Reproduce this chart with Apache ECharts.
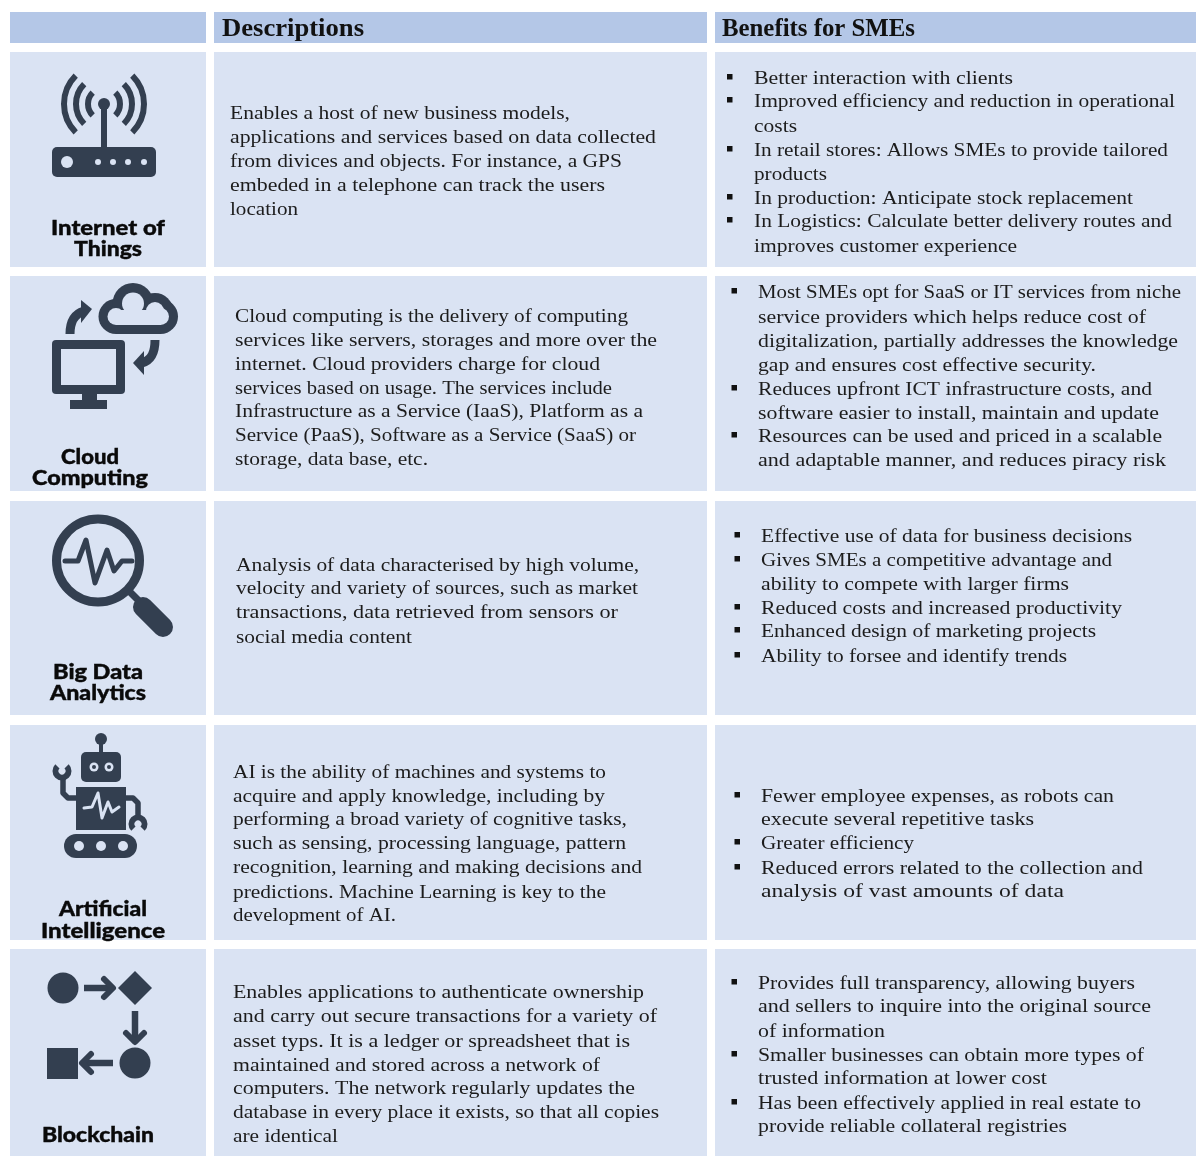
<!DOCTYPE html>
<html><head><meta charset="utf-8">
<style>html,body{margin:0;padding:0;background:#fff}#c{width:1198px;height:1156px}</style>
<script src="https://cdn.jsdelivr.net/npm/echarts@6/dist/echarts.min.js"></script>
</head><body><div id="c"></div>
<script>
const headers = ["Descriptions", "Benefits for SMEs"];
const titles = [["Internet of","Things"],["Cloud","Computing"],["Big Data","Analytics"],["Artificial","Intelligence"],["Blockchain"]];
const descriptions = [
 ["Enables a host of new business models,","applications and services based on data collected","from divices and objects. For instance, a GPS","embeded in a telephone can track the users","location"],
 ["Cloud computing is the delivery of computing","services like servers, storages and more over the","internet. Cloud providers charge for cloud","services based on usage. The services include","Infrastructure as a Service (IaaS), Platform as a","Service (PaaS), Software as a Service (SaaS) or","storage, data base, etc."],
 ["Analysis of data characterised by high volume,","velocity and variety of sources, such as market","transactions, data retrieved from sensors or","social media content"],
 ["AI is the ability of machines and systems to","acquire and apply knowledge, including by","performing a broad variety of cognitive tasks,","such as sensing, processing language, pattern","recognition, learning and making decisions and","predictions. Machine Learning is key to the","development of AI."],
 ["Enables applications to authenticate ownership","and carry out secure transactions for a variety of","asset typs. It is a ledger or spreadsheet that is","maintained and stored across a network of","computers. The network regularly updates the","database in every place it exists, so that all copies","are identical"]
];
// "* " marks a line that starts a new bullet
const benefits = [
 ["* Better interaction with clients","* Improved efficiency and reduction in operational","costs","* In retail stores: Allows SMEs to provide tailored","products","* In production: Anticipate stock replacement","* In Logistics: Calculate better delivery routes and","improves customer experience"],
 ["* Most SMEs opt for SaaS or IT services from niche","service providers which helps reduce cost of","digitalization, partially addresses the knowledge","gap and ensures cost effective security.","* Reduces upfront ICT infrastructure costs, and","software easier to install, maintain and update","* Resources can be used and priced in a scalable","and adaptable manner, and reduces piracy risk"],
 ["* Effective use of data for business decisions","* Gives SMEs a competitive advantage and","ability to compete with larger firms","* Reduced costs and increased productivity","* Enhanced design of marketing projects","* Ability to forsee and identify trends"],
 ["* Fewer employee expenses, as robots can","execute several repetitive tasks","* Greater efficiency","* Reduced errors related to the collection and","analysis of vast amounts of data"],
 ["* Provides full transparency, allowing buyers","and sellers to inquire into the original source","of information","* Smaller businesses can obtain more types of","trusted information at lower cost","* Has been effectively applied in real estate to","provide reliable collateral registries"]
];

// ---- layout ----
const DARK='#333F50', CELL='#DAE3F3', HEAD='#B4C7E7';
const cols=[[10,206],[214,707],[715,1196]];
const rowsY=[[52,267],[276,491],[501,715],[725,940],[949,1156]];
const descX=[230,235,236,233,233];
const descY=[[114,138,162,186,210],[317,341,365,389,412,436,460],[566,589,613,638],[773,797,820,844,868,893,916],[993,1017,1042,1066,1089,1113,1137]];
const descRight=[[570,656,622,605,298],[628,657,600,612,643,636,428],[639,638,618,412],[606,605,627,626,642,606,396],[644,657,630,600,635,659,338]];
const benBulletX=[730,734.5,737.5,737.5,734.5];
const benX=[754,758,761,761,758];
const benY=[[79,102,127,151,175,199,222,247],[293,318,342,366,390,414,437,461],[537,561,585,609,632,657],[797,820,844,869,892],[984,1007,1032,1056,1079,1104,1127]];
const benRight=[[1013,1175,797,1168,827,1133,1172,1017],[1181,1146,1178,1096,1152,1159,1162,1166],[1132,1112,1069,1122,1096,1067],[1114,1034,914,1143,1064],[1135,1151,885,1144,1047,1141,1067]];
const titleX=[108,90,98,103,98];
const titleY=[[228,249],[457,478],[672,693],[909,931],[1135]];
const titleHalf=[[57,34],[29,58],[45,48],[44,62],[56]];
const headerX=[222,722], headerRight=[364,915];
const BODY_FONT='"Liberation Serif"', BODY_SIZE=19.5;

const measure=document.createElement('canvas').getContext('2d');
const fit=(t,font,w)=>{measure.font=font;return w/measure.measureText(t).width;};
const els=[];
const rect=(x,y,w,h,fill,r)=>els.push({type:'rect',shape:{x,y,width:w,height:h,r:r||0},style:{fill}});
const circ=(cx,cy,r,fill)=>els.push({type:'circle',shape:{cx,cy,r},style:{fill:fill||DARK}});
const arc=(cx,cy,r,a,b,w)=>els.push({type:'arc',shape:{cx,cy,r,startAngle:a,endAngle:b,clockwise:true},style:{stroke:DARK,lineWidth:w,fill:null}});
const poly=(points,w,color,cap)=>els.push({type:'polyline',shape:{points},style:{stroke:color||DARK,lineWidth:w,fill:null,lineCap:cap||'round',lineJoin:'round'}});
const gon=(points)=>els.push({type:'polygon',shape:{points},style:{fill:DARK}});
const bez=(x1,y1,c1x,c1y,c2x,c2y,x2,y2,w)=>els.push({type:'bezierCurve',shape:{x1,y1,cpx1:c1x,cpy1:c1y,cpx2:c2x,cpy2:c2y,x2,y2},style:{stroke:DARK,lineWidth:w,fill:null}});
const text=(t,x,y,font,scale,align,color,sw)=>els.push({type:'text',x,y,scaleX:scale,style:{text:t,x:0,y:0,fill:color||'#1c1c1c',stroke:sw?color:null,lineWidth:sw||0,font,textAlign:align||'left',textVerticalAlign:'middle',verticalAlign:'middle'}});

cols.forEach(c=>{rect(c[0],12,c[1]-c[0],31,HEAD);rowsY.forEach(r=>rect(c[0],r[0],c[1]-c[0],r[1]-r[0],CELL));});
const HF='bold 25px '+BODY_FONT;
headers.forEach((h,i)=>text(h,headerX[i],30,HF,fit(h,HF,headerRight[i]-headerX[i]),'left','#111'));

const TF='900 21px Lato';
titles.forEach((t,i)=>t.forEach((l,j)=>text(l,titleX[i],titleY[i][j],TF,fit(l,TF,2*titleHalf[i][j]),'center','#0a0a0a',0.4)));
const BF='normal '+BODY_SIZE+'px '+BODY_FONT;
descriptions.forEach((d,i)=>d.forEach((l,j)=>text(l,descX[i],descY[i][j],BF,fit(l,BF,descRight[i][j]-descX[i]))));
benefits.forEach((b,i)=>b.forEach((l,j)=>{
  let s=l; if(l.startsWith('* ')){s=l.slice(2);rect(benBulletX[i]-3,benY[i][j]-5,5.5,5.5,'#111');}
  text(s,benX[i],benY[i][j],BF,fit(s,BF,benRight[i][j]-benX[i]));
}));

const P=Math.PI, Q=P/4;
// --- router
rect(52,147,104,30,DARK,5);
circ(67,162,6,CELL);[98,113,128,144].forEach(x=>circ(x,162,3,CELL));
poly([[104,147],[104,106]],6,DARK,'butt');circ(104,104,6);
[[16,6],[28,6],[40,6]].forEach(a=>{arc(104,104,a[0],P-Q,P+Q,a[1]);arc(104,104,a[0],-Q,Q,a[1]);});
// --- cloud
[[116,316.5,17.5],[160.5,316.5,17.5],[133,303.5,20.5],[155,311,18]].forEach(c=>circ(c[0],c[1],c[2]));
rect(116,316,45,18,DARK);
[[116,316.5,8.5],[160.5,316.5,8.5],[133,303.5,11],[155,311,9]].forEach(c=>circ(c[0],c[1],c[2],CELL));
rect(116,310,45,15,CELL);
rect(52,340,73,54,DARK,4);rect(61,349,55,36,CELL);
rect(82,393,15,9,DARK);rect(70,400,37,9,DARK);
bez(70,334,70,322,74,314,84,311,9);gon([[92,309],[81,300],[81,323]]);
bez(155,340,155,352,152,360,142,363,9);gon([[133,363],[144,351],[144,375]]);
// --- magnifier
arc(98,560.5,41.5,0,2*P,9);
poly([[65,561],[78,561],[86,540],[95,583],[107,550],[114,571],[122,561],[132,561]],5);
poly([[128,590],[142,604]],7,DARK,'butt');
poly([[143,607],[163,627]],20);
// --- robot
circ(101,739,6);rect(99,741,4,12,DARK);
rect(81,752,40,30,DARK,5);
[94,109].forEach(x=>{circ(x,767,4.5,CELL);circ(x,767,2);});
rect(76,787,50,43,DARK);
poly([[84,808],[92,807],[98,793],[102,818],[108,802],[112,812],[119,807]],3,CELL);
poly([[76,798],[68,798],[63,793],[63,778]],5.5,DARK,'butt');arc(62,771,6.5,-Q,P+Q,6);
poly([[126,798],[133,798],[138,803],[138,817]],5.5,DARK,'butt');arc(138,824,6.5,3*Q,2*P+Q,6);
rect(64,834,73,24,DARK,12);[79,101,123].forEach(x=>circ(x,846,5,CELL));
// --- blockchain
circ(63,988,15.5);gon([[135,971],[152,988],[135,1005],[118,988]]);
circ(135,1063,15.5);rect(47,1048,31,31,DARK);
poly([[84,988],[112,988]],6.5,DARK,'butt');poly([[104,979],[113,988],[104,997]],6);
poly([[135,1011],[135,1041]],6.5,DARK,'butt');poly([[126,1033],[135,1042],[144,1033]],6);
poly([[113,1063],[85,1063]],6.5,DARK,'butt');poly([[91,1054],[82,1063],[91,1072]],6);

const chart=echarts.init(document.getElementById('c'),null,{renderer:'canvas'});
chart.setOption({animation:false,backgroundColor:'#fff',graphic:{elements:els}});
</script></body></html>
